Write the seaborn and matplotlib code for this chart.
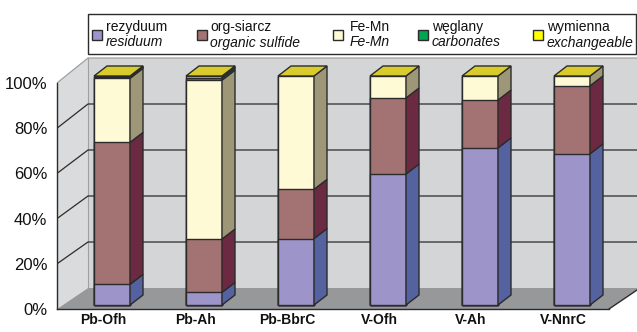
import numpy as np
import matplotlib
matplotlib.use("Agg")
import matplotlib.pyplot as plt
from matplotlib.patches import Polygon, Rectangle
import seaborn as sns

# data (percent share of each fraction)
samples = ["Pb-Ofh", "Pb-Ah", "Pb-BbrC", "V-Ofh", "V-Ah", "V-NnrC"]
residuum = [9.0, 5.5, 29.0, 57.2, 68.6, 66.0]
organic = [62.0, 23.3, 21.5, 33.2, 20.9, 29.7]
fe_mn = [28.0, 69.4, 49.5, 9.6, 10.5, 4.3]
carbonates = [0.6, 1.0, 0.0, 0.0, 0.0, 0.0]
exchangeable = [0.4, 0.8, 0.0, 0.0, 0.0, 0.0]

pl_names = ["rezyduum", "org-siarcz", "Fe-Mn", "węglany", "wymienna"]
en_names = ["residuum", "organic sulfide", "Fe-Mn", "carbonates", "exchangeable"]
y_ticks = [0, 20, 40, 60, 80, 100]

front_cols = ["#9d95c9", "#a37373", "#fffad6", "#00a651", "#e6da2e"]
side_cols = ["#5462a0", "#6c2942", "#9d9677", "#006b34", "#8c7d25"]
legend_cols = ["#9d95c9", "#a37373", "#fffad6", "#00a651", "#ffff00"]
top_col = "#d9cb2c"
edge = "#2b2b2b"

sns.set_theme(style="white")
plt.rcParams["font.family"] = ["Liberation Sans", "DejaVu Sans"]

W, H = 637, 332
fig = plt.figure(figsize=(W / 100, H / 100), dpi=100)
fig.patch.set_facecolor("white")

# axes area in pixels
ax_l, ax_r, ax_t, ax_b = 57, 637, 54, 309
ax = fig.add_axes([ax_l / W, 1 - ax_b / H, (ax_r - ax_l) / W, (ax_b - ax_t) / H])
ax.set_facecolor("none")

px_x = 92.0   # px per category
px_y = 2.29   # px per percent
sf = 226 / 229.0   # front axis scale
sb = 230 / 229.0   # back wall scale
bar_w = 36 / px_x
x0 = (57 - 112) / px_x      # front-left corner of the floor
y0 = -(309 - 305) / px_y
fdx, fdy = 31 / px_x, 21 / px_y   # floor depth
bdx, bdy = 13 / px_x, 10 / px_y   # bar depth
xb, yb = x0 + fdx, y0 + fdy
x_fr = x0 + len(samples)
x_end = x0 + 8

# walls and floor
ax.add_patch(Rectangle((xb, yb), x_end - xb, 100 * sb, fc="#d4d5d7", ec="none", zorder=0))
ax.add_patch(Polygon([(x0, y0), (xb, yb), (xb, yb + 100 * sb), (x0, y0 + 100 * sf)],
                     closed=True, fc="#dadbdd", ec="none", zorder=0))
ax.add_patch(Polygon([(x0, y0), (x_fr, y0), (x_fr + fdx, yb), (xb, yb)],
                     closed=True, fc="#97989a", ec="none", zorder=0.5))
ax.plot([x_fr, x_fr + fdx], [y0, yb], color=edge, lw=1, zorder=1)
ax.plot([xb, xb], [yb, yb + 100 * sb], color="#a0a0a0", lw=0.8, zorder=0.6)
for v in y_ticks[1:]:
    c = edge if v < 100 else "#a0a0a0"
    ax.plot([x0, xb, x_end], [y0 + v * sf, yb + v * sb, yb + v * sb],
            color=c, lw=0.9, zorder=0.6)

# stacked bars, front faces
layers = np.array([residuum, organic, fe_mn, carbonates, exchangeable])
cum = np.cumsum(layers, axis=0)
for k in reversed(range(len(layers))):
    sns.barplot(x=samples, y=cum[k], color=front_cols[k], width=bar_w,
                saturation=1, edgecolor=edge, linewidth=1, ax=ax, zorder=3)

# side and top faces
for i in range(len(samples)):
    xr = i + bar_w / 2
    for k in range(len(layers)):
        h = layers[k][i]
        if h <= 0:
            continue
        b, t = cum[k][i] - h, cum[k][i]
        ax.add_patch(Polygon([(xr, b), (xr + bdx, b + bdy), (xr + bdx, t + bdy), (xr, t)],
                             closed=True, fc=side_cols[k], ec=edge, lw=1, zorder=3))
    T = cum[-1][i]
    ax.add_patch(Polygon([(i - bar_w / 2, T), (xr, T), (xr + bdx, T + bdy),
                          (i - bar_w / 2 + bdx, T + bdy)],
                         closed=True, fc=top_col, ec=edge, lw=1, zorder=3))

ax.set_xlim(x0, x0 + (ax_r - ax_l) / px_x)
ax.set_ylim(y0, y0 + (ax_b - ax_t) / px_y)

for s in ["top", "right"]:
    ax.spines[s].set_visible(False)
for s in ["left", "bottom"]:
    ax.spines[s].set_color(edge)
    ax.spines[s].set_linewidth(1)
    ax.spines[s].set_zorder(4)
ax.spines["left"].set_bounds(y0, y0 + 100 * sf)
ax.spines["bottom"].set_bounds(x0, x_fr)

ax.set_xticks(x0 + np.arange(len(samples) + 1))
ax.set_xticklabels([])
ax.set_xticks(x0 + 0.5 + np.arange(len(samples)), minor=True)
ax.set_xticklabels(samples, minor=True, fontweight="bold", fontsize=10)
ax.tick_params(axis="x", which="major", direction="out", length=5, width=1, color=edge)
ax.tick_params(axis="x", which="minor", length=0, pad=3, labelcolor="#111111")
ax.set_yticks([y0 + v * sf for v in y_ticks])
ax.set_yticklabels([f"{v}%" for v in y_ticks], fontsize=12, color="#111111")
ax.tick_params(axis="y", direction="out", length=6, width=1, color=edge, pad=1)
ax.set_xlabel("")
ax.set_ylabel("")

# legend box with two-line labels
def fx(px):
    return px / W

def fy(py):
    return 1 - py / H

fig.patches.append(Rectangle((fx(88), fy(54)), fx(636) - fx(88), fy(14) - fy(54),
                             transform=fig.transFigure, fc="white", ec=edge, lw=1))
mark_x = [92, 197, 333, 418, 533]
text_x = [106, 210, 350, 432, 547]
for k in range(len(pl_names)):
    fig.patches.append(Rectangle((fx(mark_x[k]), fy(39.5)), 10 / W, 9.5 / H,
                                 transform=fig.transFigure, fc=legend_cols[k],
                                 ec=edge, lw=1))
    fig.text(fx(text_x[k]), fy(31), pl_names[k], fontsize=10, va="baseline",
             color="#111111")
    fig.text(fx(text_x[k]), fy(46.5), en_names[k], fontsize=10, va="baseline",
             style="italic", color="#111111")

fig.savefig("out.png", dpi=100)
